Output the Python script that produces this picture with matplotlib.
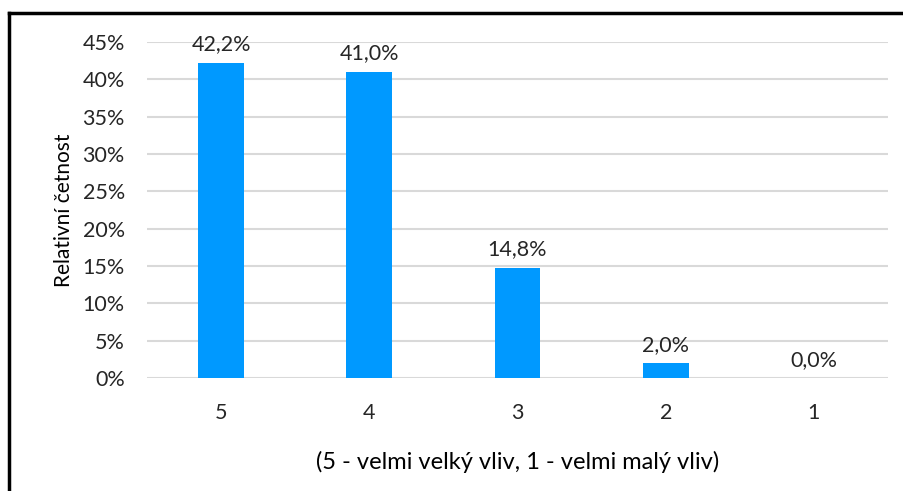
import numpy as np
import matplotlib.pyplot as plt
from matplotlib.ticker import FuncFormatter
from matplotlib.lines import Line2D

# Data
categories = ["5", "4", "3", "2", "1"]
values = [42.2, 41.0, 14.8, 2.0, 0.0]  # percent
y_ticks = [0, 5, 10, 15, 20, 25, 30, 35, 40, 45]

plt.rcParams['font.family'] = ['Lato', 'DejaVu Sans']

fig = plt.figure(figsize=(9.04, 4.91), dpi=100)
ax = fig.add_axes([0.1626, 0.2301, 0.8197, 0.6844])

x = np.arange(len(categories))
ax.bar(x, values, width=0.31, color='#0099FF', zorder=3)

# Data labels with comma decimal separator
for xi, v in zip(x, values):
    ax.annotate(f"{v:.1f}%".replace('.', ','), (xi, v), xytext=(0, 6),
                textcoords='offset points', ha='center', va='bottom',
                fontsize=15.5, color='#262626')

ax.set_xlim(-0.5, len(categories) - 0.5)
ax.set_ylim(0, 45)
ax.set_yticks(y_ticks)
ax.yaxis.set_major_formatter(FuncFormatter(lambda v, p: f"{v:.0f}%"))
ax.set_xticks(x)
ax.set_xticklabels(categories)
ax.tick_params(axis='both', length=0, labelsize=15.5, colors='#262626')
ax.tick_params(axis='x', pad=18)
ax.tick_params(axis='y', pad=16)

ax.grid(axis='y', color='#d9d9d9', linewidth=1.5, zorder=0)
for s in ax.spines.values():
    s.set_visible(False)

ax.set_ylabel("Relativní četnost", fontsize=15, color='#000000', labelpad=6)
ax.set_xlabel("(5 - velmi velký vliv, 1 - velmi malý vliv)", fontsize=17,
              color='#000000', labelpad=20)

# Outer frame (top and left edges visible in the reference)
fig.add_artist(Line2D([0.0099, 1.0], [0.9735, 0.9735], color='black', linewidth=2.5,
                      transform=fig.transFigure))
fig.add_artist(Line2D([0.0099, 0.0099], [0.0, 0.9735], color='black', linewidth=2.5,
                      transform=fig.transFigure))

fig.savefig("out.png", dpi=100)
